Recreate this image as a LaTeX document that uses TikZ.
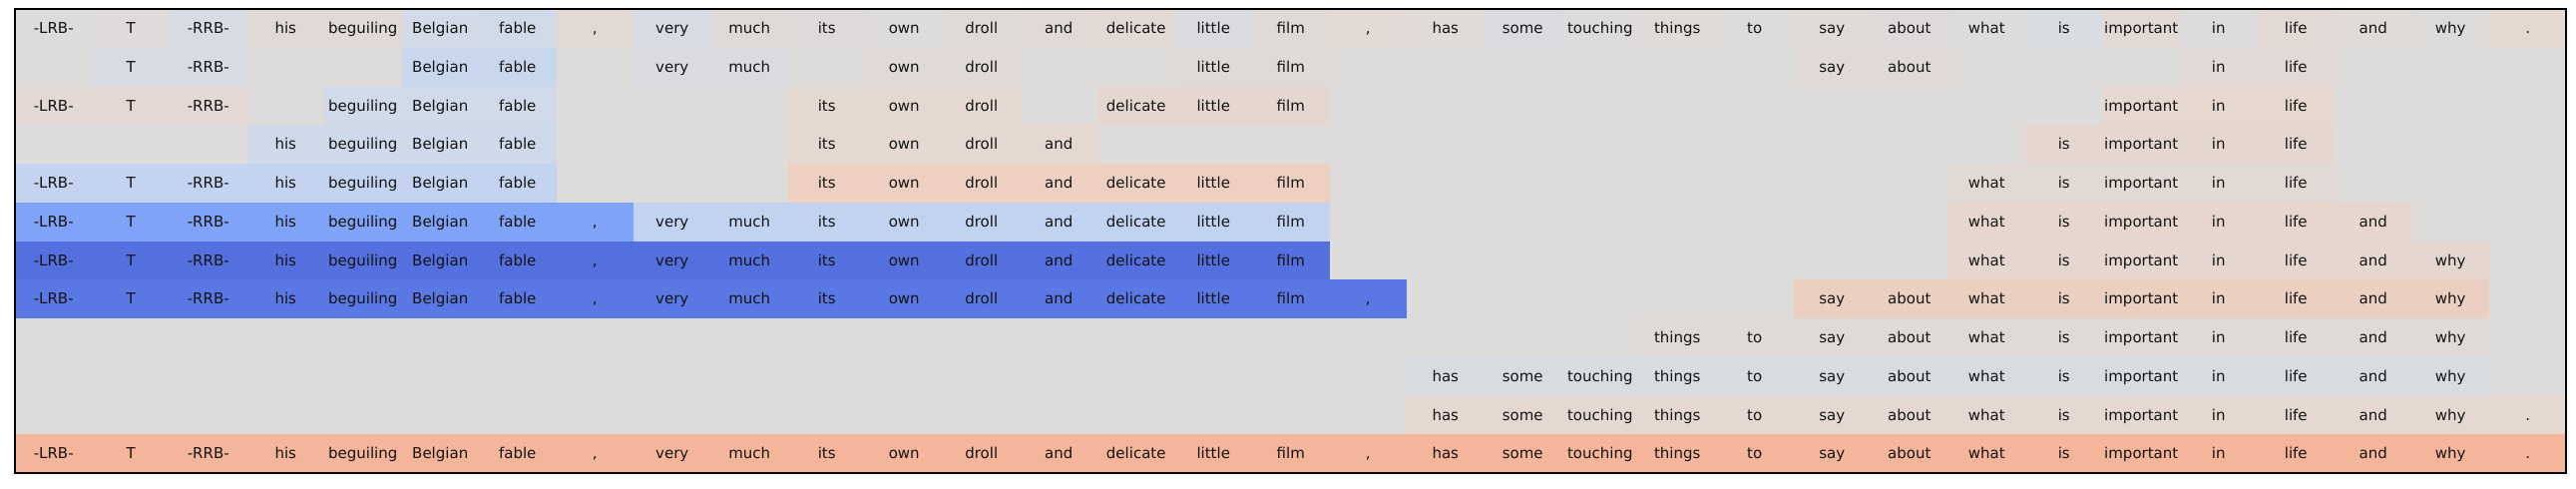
\documentclass[tikz,border=0pt]{standalone}
\usepackage{fontspec}
\setmainfont{DejaVu Sans}
\newcommand\tok[1]{\ifcase#1 -LRB-\or T\or -RRB-\or his\or beguiling\or Belgian\or fable\or ,\or very\or much\or its\or own\or droll\or and\or delicate\or little\or film\or ,\or has\or some\or touching\or things\or to\or say\or about\or what\or is\or important\or in\or life\or and\or why\or .\fi}
\definecolor{bggrey}{HTML}{DDDCDB}
\begin{document}
\begin{tikzpicture}[x=0.5pt,y=-0.5pt,
  tokentext/.style={font=\fontsize{7.5}{9}\selectfont, text=black!92, inner sep=0pt, text height=0.72em, text depth=0.2em, anchor=center},
  frameline/.style={draw=black, line width=0.6pt}]
\useasboundingbox (0,0) rectangle (2582,489);
\fill[bggrey] (15,9) rectangle (2572,474);
\foreach \r/\a/\b/\c in {
 0/0/0/DCDCDD, 0/1/1/DEDBDA, 0/2/2/D6DBE4, 0/3/3/E0D9D6, 0/4/4/E0D9D6, 0/5/5/D3DBE8, 0/6/6/D1DAE8,
 0/7/7/E2D9D4, 0/8/8/D6DBE4, 0/9/9/DFDAD8, 0/10/10/DEDAD9, 0/11/11/DDDCDB, 0/12/12/E0DAD7, 0/13/13/E1D9D6,
 0/14/14/E2D8D4, 0/15/15/DADBDF, 0/16/16/E0DAD7, 0/17/17/E3D9D5, 0/18/18/E0DAD8, 0/19/19/D9DBE0,
 0/20/20/DDDBDB, 0/21/21/E0DBD8, 0/22/22/DDDCDB, 0/23/23/E0DAD8, 0/24/24/DEDAD9, 0/25/25/DDDCDB,
 0/26/26/D9DCE1, 0/27/27/E3D9D4, 0/28/28/DEDBDB, 0/29/29/E2D9D5, 0/30/30/E0DAD8, 0/31/31/DDDBDA, 0/32/32/E5D8D0,
 1/1/2/D6DBE4, 1/5/6/C9D7EC, 1/8/9/D9DBE0, 1/11/12/E0D9D7, 1/15/16/DFDAD8, 1/23/24/E1D9D7, 1/28/29/E2D8D5,
 2/0/2/E3D8D3, 2/4/6/D1DAE8, 2/10/12/E5D8D1, 2/14/16/E5D7D0, 2/27/29/E6D7CF,
 3/3/6/CED9EA, 3/10/13/E4D8D1, 3/26/29/E5D7D0,
 4/0/6/C4D4F0, 4/10/16/EDD0C2, 4/25/29/E3D9D4,
 5/0/7/7FA3F7, 5/8/16/C1D3F1, 5/25/30/E6D6CE,
 6/0/16/5470DE, 6/25/31/E5D7D0,
 7/0/17/5A78E4, 7/23/31/EBD0C2,
 8/21/31/DFDAD8,
 9/18/31/D8DBE0,
 10/18/32/E4D8D1,
 11/0/32/F5B59B}{
  \definecolor{cellcol}{HTML}{\c}
  \fill[cellcol] ({15+77.5*\a},{9+38.75*\r}) rectangle ({15+77.5*(\b+1)},{9+38.75*(\r+1)});
  \foreach \i in {\a,...,\b}{
    \node[tokentext] (t-\r-\i) at ({15+77.5*(\i+0.5)},{9+38.75*(\r+0.5)}) {\tok{\i}};
  }
}
\draw[frameline] (15,9) rectangle (2572,474);
\end{tikzpicture}
\end{document}
